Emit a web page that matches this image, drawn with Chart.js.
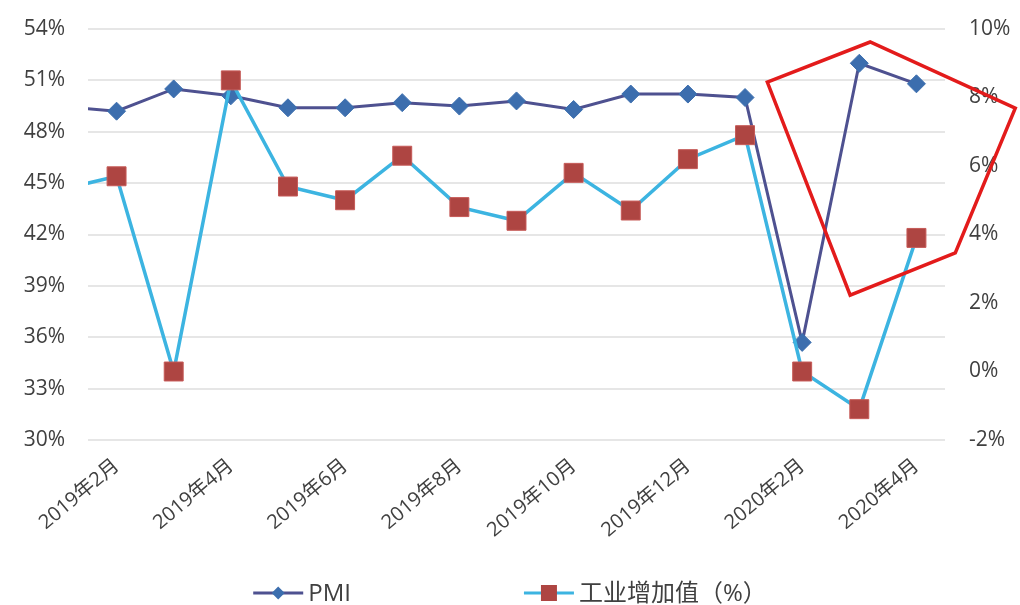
<!DOCTYPE html>
<html>
<head>
<meta charset="utf-8">
<script src="https://cdn.jsdelivr.net/npm/chart.js@4.4.1/dist/chart.umd.min.js"></script>
<style>
  html, body { margin: 0; padding: 0; background: #ffffff; }
  #wrap { width: 1020px; height: 605px; position: relative; }
</style>
</head>
<body>
<div id="wrap"><canvas id="c" width="1020" height="605"></canvas></div>
<script>
// Monthly series; 2019年1月 sits just left of the visible range so the lines enter from the edge.
const months = [
  '2019年1月', '2019年2月', '2019年3月', '2019年4月', '2019年5月', '2019年6月',
  '2019年7月', '2019年8月', '2019年9月', '2019年10月', '2019年11月', '2019年12月',
  '2020年1月', '2020年2月', '2020年3月', '2020年4月'
];
const pmi      = [49.5, 49.2, 50.5, 50.1, 49.4, 49.4, 49.7, 49.5, 49.8, 49.3, 50.2, 50.2, 50.0, 35.7, 52.0, 50.8];
const industry = [5.3, 5.7, 0, 8.5, 5.4, 5.0, 6.3, 4.8, 4.4, 5.8, 4.7, 6.2, 6.9, 0, -1.1, 3.9];

const pmiTicks      = [30, 33, 36, 39, 42, 45, 48, 51, 54];
const industryTicks = [-2, 0, 2, 4, 6, 8, 10];

// Red outline around the 2020 rebound, given as (month index, right-axis %) pairs.
const calloutX = [12.39, 14.19, 16.73, 15.68, 13.84];
const calloutY = [8.45, 9.62, 7.69, 3.46, 2.23];

const FONT = "'Open Sans', 'Noto Sans CJK SC', sans-serif";
const TEXT = '#404040';

const toPoints = arr => arr.map((v, i) => ({ x: i, y: v }));

// Keep the vertical axes from reserving extra room above and below the plot.
const tightY = (width) => s => { s.width = width; s.paddingTop = 0; s.paddingBottom = 0; };

// Draws the red outline and the line-with-marker legend under the axis.
const overlay = {
  id: 'overlay',
  afterDraw(chart) {
    const ctx = chart.ctx;
    const xs = chart.scales.x, yr = chart.scales.yR;
    ctx.save();

    ctx.beginPath();
    calloutX.forEach((v, i) => {
      const px = xs.getPixelForValue(v), py = yr.getPixelForValue(calloutY[i]);
      if (i === 0) ctx.moveTo(px, py); else ctx.lineTo(px, py);
    });
    ctx.closePath();
    ctx.strokeStyle = '#E31B1B';
    ctx.lineWidth = 3.5;
    ctx.lineJoin = 'miter';
    ctx.stroke();

    const ly = 593;
    const sample = 50, textGap = 5, itemGap = 173;
    ctx.font = '24px ' + FONT;
    ctx.textBaseline = 'middle';
    ctx.textAlign = 'left';
    const items = chart.data.datasets.map(ds => ({ ds, w: sample + textGap + ctx.measureText(ds.label).width }));
    const total = items.reduce((s, it) => s + it.w, 0) + itemGap * (items.length - 1);
    let x = (chart.width - total) / 2;
    items.forEach(({ ds, w }) => {
      ctx.beginPath();
      ctx.moveTo(x, ly);
      ctx.lineTo(x + sample, ly);
      ctx.strokeStyle = ds.borderColor;
      ctx.lineWidth = 3;
      ctx.stroke();
      const cx = x + sample / 2;
      ctx.fillStyle = ds.pointBackgroundColor;
      ctx.beginPath();
      if (ds.pointStyle === 'rectRot') {
        const r = 6.5;
        ctx.moveTo(cx, ly - r); ctx.lineTo(cx + r, ly); ctx.lineTo(cx, ly + r); ctx.lineTo(cx - r, ly);
        ctx.closePath();
      } else {
        ctx.rect(cx - 8, ly - 8, 16, 16);
      }
      ctx.fill();
      ctx.fillStyle = TEXT;
      ctx.fillText(ds.label, x + sample + textGap, ly + 1);
      x += w + itemGap;
    });
    ctx.restore();
  }
};

new Chart(document.getElementById('c'), {
  type: 'line',
  data: {
    datasets: [
      {
        label: 'PMI',
        data: toPoints(pmi),
        yAxisID: 'yL',
        order: 2,
        borderColor: '#4E5190',
        borderWidth: 3,
        pointStyle: 'rectRot',
        pointRadius: 9,
        pointBackgroundColor: '#3C6EAE',
        pointBorderColor: '#3C6EAE',
        pointBorderWidth: 1,
        tension: 0,
        clip: 0
      },
      {
        label: '工业增加值（%）',
        data: toPoints(industry),
        yAxisID: 'yR',
        order: 1,
        borderColor: '#3CB4E1',
        borderWidth: 3.5,
        pointStyle: 'rect',
        pointRadius: 13.4,
        pointBackgroundColor: '#AE4542',
        pointBorderColor: '#C65A57',
        pointBorderWidth: 1,
        tension: 0,
        clip: 0
      }
    ]
  },
  options: {
    responsive: false,
    animation: false,
    events: [],
    layout: { padding: { top: 29, left: 0, right: 0, bottom: 0 } },
    plugins: { legend: { display: false }, tooltip: { enabled: false } },
    scales: {
      x: {
        type: 'linear',
        min: 0.5,
        max: 15.5,
        afterBuildTicks: s => { s.ticks = months.map((m, i) => ({ value: i })).filter(t => t.value >= 1); },
        afterFit: s => { s.height = 165; },
        grid: { display: false, drawTicks: false },
        border: { display: false },
        ticks: {
          autoSkip: false,
          minRotation: 40,
          maxRotation: 40,
          padding: 14,
          color: TEXT,
          font: { family: FONT, size: 20 },
          callback: v => (v % 2 === 1 ? months[v] : '')
        }
      },
      yL: {
        position: 'left',
        min: pmiTicks[0],
        max: pmiTicks[pmiTicks.length - 1],
        afterBuildTicks: s => { s.ticks = pmiTicks.map(v => ({ value: v })); },
        afterFit: tightY(88),
        grid: { color: '#E6E6E6', lineWidth: 2, drawTicks: false },
        border: { display: false },
        ticks: { padding: 23, color: TEXT, font: { family: FONT, size: 21 }, callback: v => v + '%' }
      },
      yR: {
        position: 'right',
        min: industryTicks[0],
        max: industryTicks[industryTicks.length - 1],
        afterBuildTicks: s => { s.ticks = industryTicks.map(v => ({ value: v })); },
        afterFit: tightY(75),
        grid: { display: false, drawTicks: false },
        border: { display: false },
        ticks: { padding: 24, color: TEXT, font: { family: FONT, size: 21 }, callback: v => v + '%' }
      }
    }
  },
  plugins: [overlay]
});
</script>
</body>
</html>
